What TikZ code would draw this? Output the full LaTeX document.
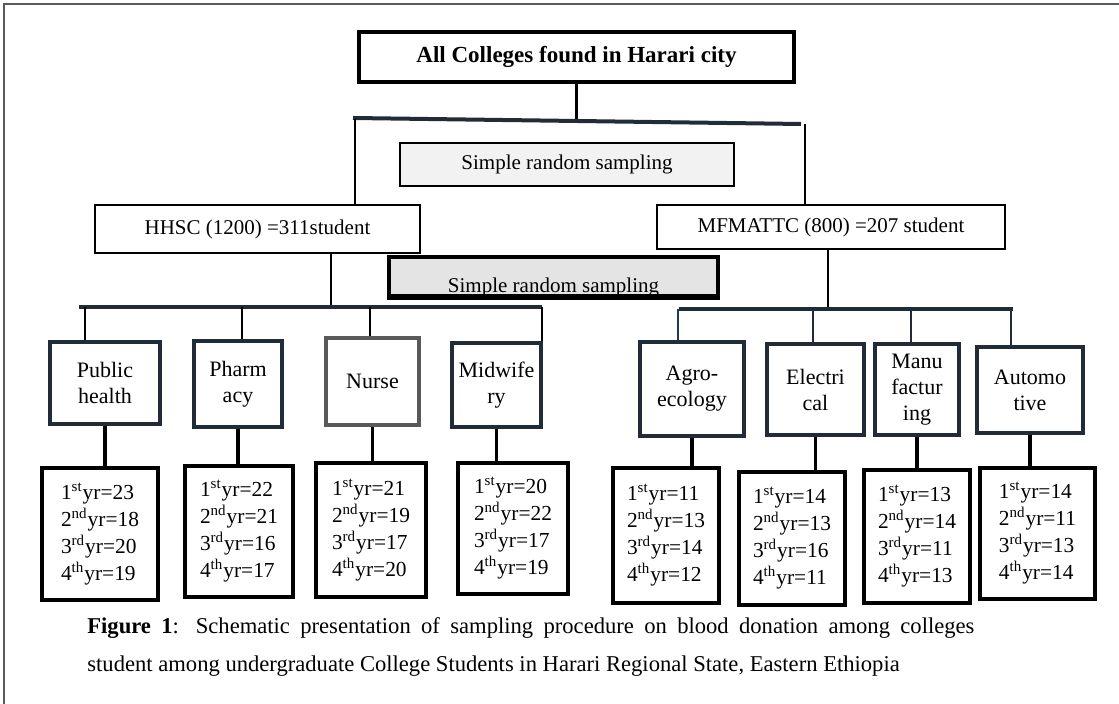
\documentclass[tikz,border=0pt]{standalone}
\usepackage{fontspec}
\setmainfont{Liberation Serif}
\usetikzlibrary{calc}
\definecolor{framegray}{HTML}{5A5A5A}
\definecolor{deptborder}{HTML}{222B38}
\definecolor{nurseborder}{HTML}{595959}
\definecolor{samplefill}{HTML}{F2F2F2}
\definecolor{samplefilldark}{HTML}{E4E4E4}
\definecolor{agroline}{HTML}{1F3864}
\tikzset{
  box/.style={rectangle, draw=black, fill=white, align=center, inner sep=1pt,
              font=\fontsize{10.5}{12.5}\selectfont},
  headbox/.style={box, line width=1.6pt, font=\bfseries\fontsize{11.5}{13}\selectfont},
  collegebox/.style={box, line width=1.2pt},
  samplebox/.style={box, line width=1.2pt, fill=samplefill},
  dept/.style={box, draw=deptborder, line width=1.6pt, font=\fontsize{11}{13}\selectfont},
  years/.style={box, align=left, line width=2pt, font=\fontsize{10.7}{13.5}\selectfont},
  bar/.style={line width=2pt, draw=deptborder},
  link/.style={line width=1.4pt, draw=black},
  caption/.style={inner sep=0pt, text width=443.5pt, align=justify,
                  font=\fontsize{11.3}{19}\selectfont},
}
\newcommand{\yrcounts}[4]{1\textsuperscript{st}yr=#1\\2\textsuperscript{nd}yr=#2\\
  3\textsuperscript{rd}yr=#3\\4\textsuperscript{th}yr=#4}

\begin{document}
\begin{tikzpicture}[x=0.5pt, y=-0.5pt]
\useasboundingbox (0,0) rectangle (1119,704);

% Frame round the figure
\draw[framegray, line width=1pt] (4,704) -- (4,4) -- (1119,4);

% Top level
\node[headbox, minimum width=217.5pt, minimum height=25pt] (all) at (576.5,57)
  {All Colleges found in Harari city};
\node[samplebox, minimum width=167pt, minimum height=21.5pt] (srs1) at (567,164.5)
  {Simple random sampling};

% Colleges
\node[collegebox, minimum width=162.5pt, minimum height=24pt] (hhsc) at (257.5,229)
  {HHSC (1200) =311student};
\node[collegebox, minimum width=174pt, minimum height=22pt] (mfm) at (831,227)
  {MFMATTC (800) =207 student};
\node[samplebox, fill=samplefilldark, line width=2pt, minimum width=164.5pt,
      minimum height=19.5pt, text depth=0pt] (srs2) at (553.5,276.5) {};
\node[font=\fontsize{10.5}{12.5}\selectfont, anchor=base] (srs2text) at (553.5,293)
  {Simple random sampling};
\draw[line width=2pt] (srs2.south west) -- (srs2.south east);

% Departments of HHSC
\node[dept, minimum width=55pt, minimum height=41pt] (ph) at (105,383) {Public\\health};
\node[dept, minimum width=44pt, minimum height=43pt] (pharm) at (238,384) {Pharm\\acy};
\node[dept, draw=nurseborder, minimum width=46.5pt, minimum height=43.5pt] (nurse)
  at (372.5,381.5) {Nurse};
\node[dept, minimum width=44.5pt, minimum height=42pt] (mid) at (496.5,385) {Midwife\\ry};

% Departments of MFMATTC
\node[dept, minimum width=52pt, minimum height=47pt] (agro) at (692,389) {Agro-\\ecology};
\node[dept, minimum width=48.5pt, minimum height=45.5pt] (elec) at (815.5,389.5) {Electri\\cal};
\node[dept, minimum width=42pt, minimum height=45.5pt] (manu) at (917,389.5)
  {Manu\\factur\\ing};
\node[dept, minimum width=53pt, minimum height=43pt] (auto) at (1030,390) {Automo\\tive};

% Students per year
\node[years, minimum width=58pt, minimum height=66pt] (yph) at (100,534) {\yrcounts{23}{18}{20}{19}};
\node[years, minimum width=54pt, minimum height=65.5pt] (ypharm) at (239,531.5) {\yrcounts{22}{21}{16}{17}};
\node[years, minimum width=55pt, minimum height=67pt] (ynurse) at (371,530) {\yrcounts{21}{19}{17}{20}};
\node[years, minimum width=55pt, minimum height=65.5pt] (ymid) at (513,528.5) {\yrcounts{20}{22}{17}{19}};
\node[years, minimum width=53pt, minimum height=67.5pt] (yagro) at (666,535.5) {\yrcounts{11}{13}{14}{12}};
\node[years, minimum width=53pt, minimum height=66.5pt] (yelec) at (792,538.5) {\yrcounts{14}{13}{16}{11}};
\node[years, minimum width=53pt, minimum height=66.5pt] (ymanu) at (917,536.5) {\yrcounts{13}{14}{11}{13}};
\node[years, minimum width=57.5pt, minimum height=65.5pt] (yauto) at (1037.5,533.5) {\yrcounts{14}{11}{13}{14}};

% Caption
\node[caption, anchor=north west] (cap) at (87,617)
  {\textbf{Figure 1}: Schematic presentation of sampling procedure on blood donation among colleges\linebreak
   student among undergraduate College Students in Harari Regional State, Eastern Ethiopia};

% Tree: top to colleges
\coordinate (topL) at (353,118);
\coordinate (topR) at (801,124);
\draw[link] (all.south) -- (all.south |- 0,121);
\draw[bar] (topL) -- (topR);
\draw[link] (355,119) -- (355,119 |- hhsc.north);
\draw[link] (805,124) -- (805,124 |- mfm.north);

% Tree: colleges to departments
\coordinate (barL) at (79,307);
\coordinate (barR) at (679,309);
\draw[link] (331,0 |- hhsc.south) -- (331,307);
\draw[link] (828,0 |- mfm.south) -- (828,309);
\draw[bar] (barL) -- (542,307);
\draw[bar] (barR) -- (1013,309);
\foreach \x/\n in {85/ph, 242/pharm, 370/nurse, 542/mid} {
  \draw[link] (\x,307) -- (\x,0 |- \n.north);
}
\draw[line width=0.9pt, agroline] (678,309) -- (678,0 |- agro.north);
\foreach \x/\n in {813/elec, 911/manu, 1011/auto} {
  \draw[link, draw=deptborder] (\x,309) -- (\x,0 |- \n.north);
}

% Departments to year counts
\foreach \n in {ph, pharm, nurse, mid, agro, elec, manu, auto} {
  \draw[link, line width=1.8pt] (\n.south) -- (\n.south |- y\n.north);
}

\end{tikzpicture}
\end{document}
